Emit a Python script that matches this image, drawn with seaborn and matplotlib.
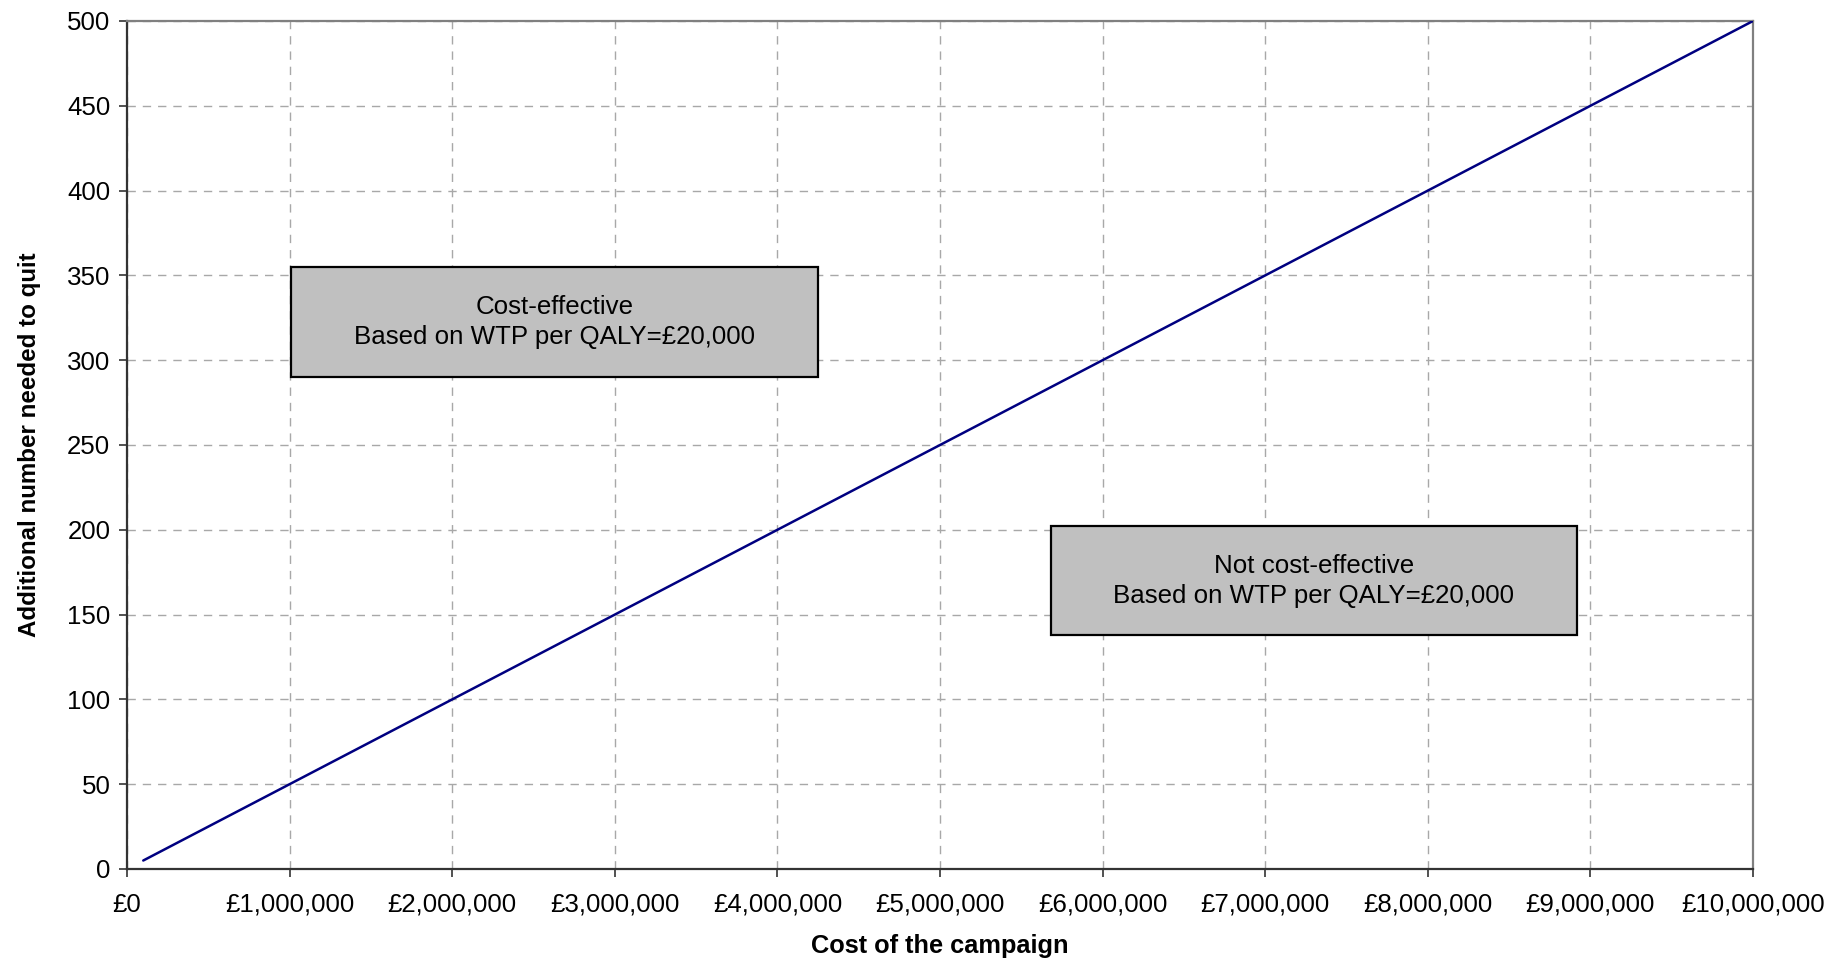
import matplotlib
matplotlib.use("Agg")
import matplotlib.pyplot as plt
import seaborn as sns
import pandas as pd
from matplotlib.ticker import FuncFormatter, MultipleLocator
from matplotlib.patches import Rectangle

# Data
campaign_cost = [100000, 1000000, 2000000, 3000000, 4000000, 5000000,
                 6000000, 7000000, 8000000, 9000000, 10000000]
additional_quitters = [5, 50, 100, 150, 200, 250, 300, 350, 400, 450, 500]
box_labels = ["Cost-effective\nBased on WTP per QALY=£20,000",
              "Not cost-effective\nBased on WTP per QALY=£20,000"]
box_x0 = [1010000, 5680000]
box_x1 = [4250000, 8920000]
box_y0 = [290, 138]
box_y1 = [355, 202]

sns.set_theme(style="white")
plt.rcParams['font.family'] = ['Liberation Sans', 'DejaVu Sans']

df = pd.DataFrame({"cost": campaign_cost, "quit": additional_quitters})

fig, ax = plt.subplots(figsize=(18.32, 9.59), dpi=100)
fig.subplots_adjust(left=127/1832, right=1753/1832, top=1-21/959, bottom=1-869/959)

ax.set_xlim(0, 10000000)
ax.set_ylim(0, 500)
ax.xaxis.set_major_locator(MultipleLocator(1000000))
ax.yaxis.set_major_locator(MultipleLocator(50))
ax.xaxis.set_major_formatter(FuncFormatter(lambda v, p: f"£{v:,.0f}"))

ax.grid(True, which="major", color="#a8a8a8", linestyle=(0, (6, 5)), linewidth=1.0)
ax.set_axisbelow(True)

for x0, x1, y0, y1, lab in zip(box_x0, box_x1, box_y0, box_y1, box_labels):
    ax.add_patch(Rectangle((x0, y0), x1 - x0, y1 - y0, facecolor="#c0c0c0",
                           edgecolor="black", linewidth=1.6, zorder=3))
    ax.text((x0 + x1) / 2, (y0 + y1) / 2, lab, ha="center", va="center",
            fontsize=18.6, color="black", linespacing=1.3, zorder=4)

sns.lineplot(data=df, x="cost", y="quit", ax=ax, color="#000080", linewidth=1.8, zorder=5)

for side in ["left", "bottom"]:
    ax.spines[side].set_color("#333333")
    ax.spines[side].set_linewidth(1.6)
for side in ["top", "right"]:
    ax.spines[side].set_color("#808080")
    ax.spines[side].set_linewidth(1.6)

ax.tick_params(axis="both", which="major", direction="out", length=6, width=1.2,
               color="#333333", labelsize=18.6, labelcolor="black",
               left=True, bottom=True)
ax.tick_params(axis="y", pad=6)
ax.tick_params(axis="x", pad=11)

ax.set_xlabel("Cost of the campaign", fontsize=18.3, fontweight="bold",
              color="black", labelpad=12.5)
ax.set_ylabel("Additional number needed to quit", fontsize=17.4, fontweight="bold",
              color="black", labelpad=19)

fig.savefig("out.png", dpi=100)
